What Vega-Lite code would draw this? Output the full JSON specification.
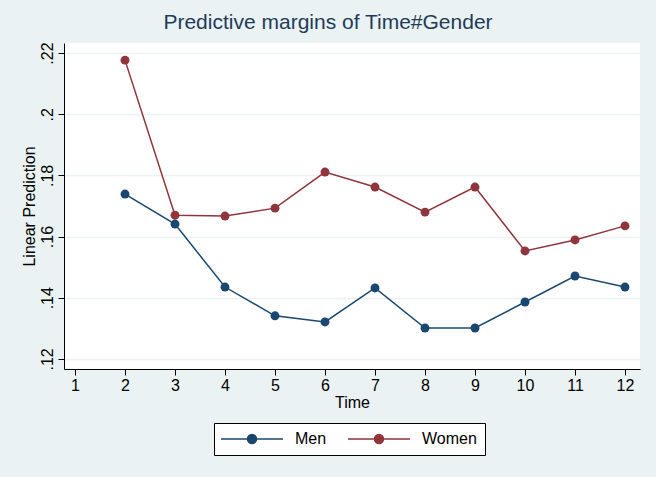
{
  "$schema": "https://vega.github.io/schema/vega-lite/v6.json",
  "width": 576,
  "height": 326,
  "autosize": {"type": "none"},
  "padding": {"left": 64, "top": 43, "right": 16, "bottom": 108},
  "background": "#eaf2f3",
  "title": {"text": "Predictive margins of Time#Gender", "fontSize": 21, "font": "Liberation Sans", "fontWeight": "normal", "color": "#1e3c5a", "offset": 9, "anchor": "middle", "dx": -24},
  "config": {
    "view": {"fill": "white", "stroke": null},
    "font": "Liberation Sans",
    "axis": {"labelFont": "Liberation Sans", "titleFont": "Liberation Sans", "labelFontSize": 16, "titleFontSize": 16, "titleFontWeight": "normal", "labelColor": "black", "titleColor": "black", "domainColor": "#000000", "tickColor": "#000000", "tickSize": 6, "domainWidth": 1, "tickWidth": 1}
  },
  "data": {"values": [
    {"time": 2, "gender": "Men", "pred": 0.1739},
    {"time": 3, "gender": "Men", "pred": 0.1641},
    {"time": 4, "gender": "Men", "pred": 0.1435},
    {"time": 5, "gender": "Men", "pred": 0.1341},
    {"time": 6, "gender": "Men", "pred": 0.1321},
    {"time": 7, "gender": "Men", "pred": 0.1432},
    {"time": 8, "gender": "Men", "pred": 0.1301},
    {"time": 9, "gender": "Men", "pred": 0.1301},
    {"time": 10, "gender": "Men", "pred": 0.1386},
    {"time": 11, "gender": "Men", "pred": 0.1471},
    {"time": 12, "gender": "Men", "pred": 0.1435},
    {"time": 2, "gender": "Women", "pred": 0.2177},
    {"time": 3, "gender": "Women", "pred": 0.1670},
    {"time": 4, "gender": "Women", "pred": 0.1667},
    {"time": 5, "gender": "Women", "pred": 0.1693},
    {"time": 6, "gender": "Women", "pred": 0.1811},
    {"time": 7, "gender": "Women", "pred": 0.1762},
    {"time": 8, "gender": "Women", "pred": 0.1680},
    {"time": 9, "gender": "Women", "pred": 0.1762},
    {"time": 10, "gender": "Women", "pred": 0.1553},
    {"time": 11, "gender": "Women", "pred": 0.1589},
    {"time": 12, "gender": "Women", "pred": 0.1635}
  ]},
  "encoding": {
    "x": {"field": "time", "type": "quantitative", "title": "Time",
      "scale": {"domain": [0.78, 12.3], "nice": false, "zero": false},
      "axis": {"values": [1,2,3,4,5,6,7,8,9,10,11,12], "grid": false, "labelPadding": 2, "titlePadding": 1, "labelFlush": false}},
    "y": {"field": "pred", "type": "quantitative", "title": "Linear Prediction",
      "scale": {"domain": [0.1167, 0.2233], "nice": false, "zero": false},
      "axis": {"values": [0.12,0.14,0.16,0.18,0.2,0.22], "grid": true, "gridColor": "#eaf2f3", "gridWidth": 1.5,
        "labelExpr": "replace(format(datum.value, ''), /^0/, '')", "labelAngle": 270, "labelAlign": "center", "labelBaseline": "bottom", "labelPadding": 3, "titlePadding": 2, "labelFlush": false}},
    "color": {"field": "gender", "type": "nominal", "title": null,
      "scale": {"domain": ["Men", "Women"], "range": ["#1a476f", "#90353b"]},
      "legend": {"orient": "none", "legendX": 150, "legendY": 380, "direction": "horizontal", "columns": 2,
        "fillColor": "white", "strokeColor": "#000000", "padding": 8,
        "symbolType": "M-1.8,0L10.6,0M3.5,0A0.9,0.9,0,1,1,5.3,0A0.9,0.9,0,1,1,3.5,0Z",
        "symbolSize": 100, "symbolStrokeWidth": 1.5, "labelFontSize": 16, "labelFont": "Liberation Sans", "labelColor": "black",
        "labelOffset": 57, "columnPadding": 18, "rowPadding": 0,
        "encode": {"symbols": {"update": {"fill": {"scale": "color", "field": "value"}, "fillOpacity": {"value": 1}}}}}}
  },
  "layer": [
    {"mark": {"type": "line", "strokeWidth": 1.5}},
    {"mark": {"type": "point", "filled": true, "size": 80, "opacity": 1}}
  ]
}
